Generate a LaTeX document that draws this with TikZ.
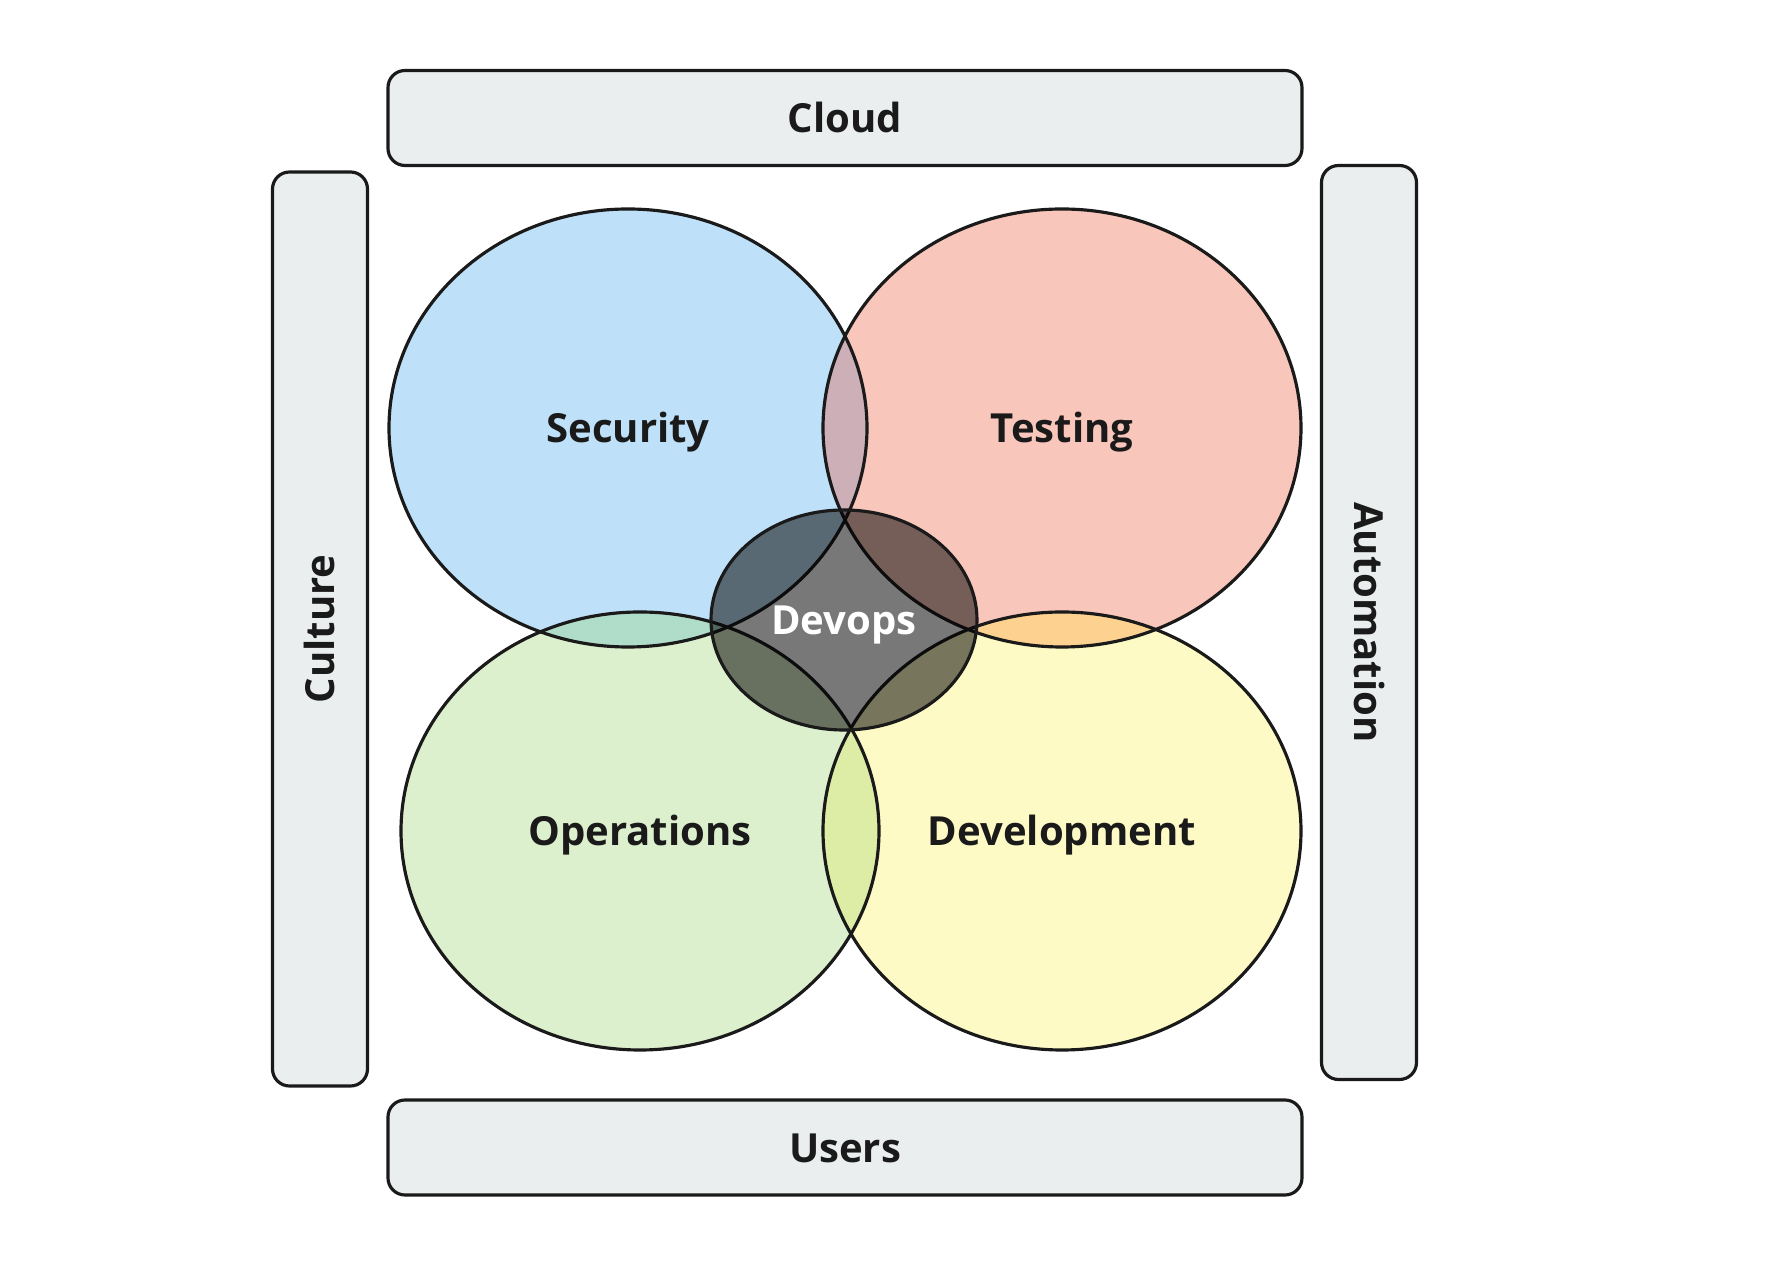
\documentclass[tikz,border=0pt]{standalone}
\usepackage{fontspec}
\setmainfont{Open Sans}
\usepackage{xcolor}
\usetikzlibrary{shapes.geometric}

\definecolor{linegrey}{HTML}{1A1A1A}
\definecolor{barfill}{HTML}{EBEEEF}
\definecolor{secblue}{HTML}{BEE0F8}
\definecolor{testred}{HTML}{F9C6BB}
\definecolor{opsgreen}{HTML}{DDF0CD}
\definecolor{devyellow}{HTML}{FEFAC5}
\definecolor{sectest}{HTML}{CDAFB8}
\definecolor{secops}{HTML}{B0DDC9}
\definecolor{testdev}{HTML}{FDD290}
\definecolor{opsdev}{HTML}{DEEDA6}

\tikzset{
  label font/.style={font=\fontsize{11.4}{14}\selectfont\bfseries,text height=0.84em,text depth=0pt},
  bar/.style={draw=linegrey,line width=0.9pt,fill=barfill,rounded corners=0.17cm,
    minimum width=9.14cm,minimum height=0.95cm,inner sep=0pt,label font,text=linegrey},
  petal/.style={ellipse,minimum width=4.78cm,minimum height=4.38cm,inner sep=0pt,
    label font,text=linegrey},
  ring/.style={draw=linegrey,line width=0.9pt}
}

\begin{document}
\begin{tikzpicture}
\useasboundingbox (0,0) rectangle (17.83,12.61);
% outer bars
\node[bar] (cloud) at (8.45,11.43) {Cloud};
\node[bar] (users) at (8.45,1.135) {Users};
\node[bar,rotate=90] (culture) at (3.20,6.32) {Culture};
\node[bar,rotate=-90] (automation) at (13.69,6.385) {Automation};
% four petals
\node[petal,fill=secblue] (security) at (6.28,8.33) {};
\node[petal,fill=testred] (testing) at (10.62,8.33) {};
\node[petal,fill=opsgreen] (operations) at (6.40,4.30) {};
\node[petal,fill=devyellow] (development) at (10.62,4.30) {};
% overlaps
\begin{scope}
\clip (security.center) ellipse [x radius=2.39,y radius=2.19];
\fill[sectest] (testing.center) ellipse [x radius=2.39,y radius=2.19];
\fill[secops] (operations.center) ellipse [x radius=2.39,y radius=2.19];
\end{scope}
\begin{scope}
\clip (development.center) ellipse [x radius=2.39,y radius=2.19];
\fill[testdev] (testing.center) ellipse [x radius=2.39,y radius=2.19];
\fill[opsdev] (operations.center) ellipse [x radius=2.39,y radius=2.19];
\end{scope}
% outlines
\draw[ring] (security.center) ellipse [x radius=2.39,y radius=2.19];
\draw[ring] (testing.center) ellipse [x radius=2.39,y radius=2.19];
\draw[ring] (operations.center) ellipse [x radius=2.39,y radius=2.19];
\draw[ring] (development.center) ellipse [x radius=2.39,y radius=2.19];
\node[petal] at (security.center) {Security};
\node[petal] at (testing.center) {Testing};
\node[petal] at (operations.center) {Operations};
\node[petal] at (development.center) {Development};
% centre
\node[ellipse,ring,fill=black,fill opacity=0.53,text opacity=1,
  minimum width=2.66cm,minimum height=2.2cm,inner sep=0pt,
  label font,text=white] (devops) at (8.44,6.41) {Devops};
\end{tikzpicture}
\end{document}
